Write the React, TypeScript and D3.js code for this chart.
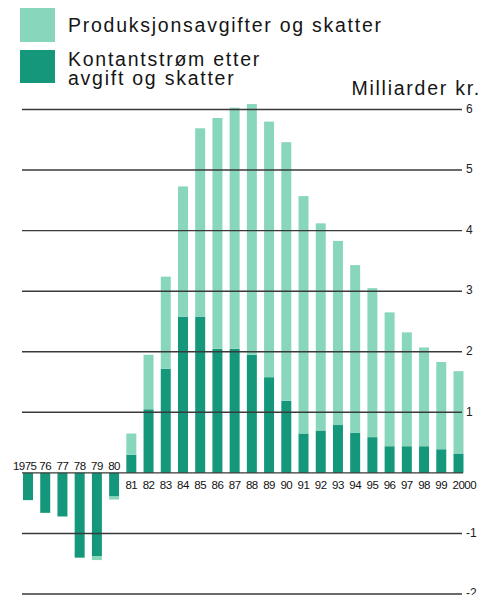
import React from "react"
import * as d3 from "d3"

const years = ["1975", "76", "77", "78", "79", "80", "81", "82", "83", "84", "85", "86", "87",
    "88", "89", "90", "91", "92", "93", "94", "95", "96", "97", "98", "99", "2000"]

// Kontantstrøm etter avgift og skatter (milliarder kr.)
const cashflow = [-0.45, -0.66, -0.72, -1.40, -1.38, -0.39, 0.30, 1.05, 1.72, 2.58, 2.58, 2.05, 2.05,
    1.95, 1.58, 1.19, 0.65, 0.70, 0.79, 0.66, 0.59, 0.44, 0.44, 0.44, 0.39, 0.32]

// Produksjonsavgifter og skatter (milliarder kr.)
const fees = [0, 0, 0, 0, -0.06, -0.05, 0.35, 0.90, 1.52, 2.15, 3.11, 3.81, 3.98,
    4.14, 4.22, 4.27, 3.92, 3.42, 3.04, 2.77, 2.46, 2.21, 1.88, 1.63, 1.44, 1.36]

const yTicks = [-2, -1, 1, 2, 3, 4, 5, 6]

const LIGHT = "#88d6bc"
const DARK = "#14977a"
const LINE = "#3a3a3a"

const W = 483
const H = 595

const App = () => {
    const x = d3.scaleBand()
        .domain(years)
        .range([19.4, 467.1])
        .paddingInner(0.42)
        .paddingOuter(0.21)
    const y = d3.scaleLinear()
        .domain([-2, 6])
        .range([594, 109.5])

    const rows = years.map((yr, i) => ({year: yr, cashflow: cashflow[i], fees: fees[i]}))
    const series = d3.stack<any>()
        .keys(["cashflow", "fees"])
        .offset(d3.stackOffsetDiverging)(rows)
    const colors = [DARK, LIGHT]

    const lineX0 = 22
    const lineX1 = 462
    const font = "'Liberation Sans', Arial, sans-serif"

    return (
        <svg width={W} height={H} style={{position: "absolute", left: 0, top: 0}}
             fontFamily={font}>
            {/* legend */}
            <rect x={20} y={8} width={35} height={34} fill={LIGHT}/>
            <rect x={20} y={50} width={35} height={33} fill={DARK}/>
            <g fontSize={19.5} fill="#151515" letterSpacing={1.75}>
                <text x={68} y={32}>Produksjonsavgifter og skatter</text>
                <text x={68} y={65.5}>Kontantstrøm etter</text>
                <text x={68} y={84.5}>avgift og skatter</text>
                <text x={481} y={94.5} textAnchor="end">Milliarder kr.</text>
            </g>

            {/* bars */}
            {series.map((s, si) => (
                <g key={s.key} fill={colors[si]}>
                    {s.map((d: any) => {
                        const top = y(Math.max(d[0], d[1]))
                        const bot = y(Math.min(d[0], d[1]))
                        if (bot - top < 0.01) return null
                        return <rect key={d.data.year} x={x(d.data.year)} y={top}
                                     width={x.bandwidth()} height={bot - top}/>
                    })}
                </g>
            ))}

            {/* grid lines on top of the bars */}
            <g stroke={LINE} strokeWidth={1.4}>
                {yTicks.map(t => (
                    <line key={t} x1={lineX0} x2={lineX1} y1={y(t)} y2={y(t)}/>
                ))}
                <line x1={lineX0} x2={lineX1 + 1} y1={y(0)} y2={y(0)}/>
            </g>
            <g fontSize={12} fill="#222">
                {yTicks.map(t => (
                    <text key={t} x={466} y={y(t) - 1} dy="0.35em">{t < 0 ? `-${-t}` : t}</text>
                ))}
            </g>

            {/* year labels */}
            <g fontSize={11.5} fill="#111" letterSpacing={-0.5}>
                {years.map((yr, i) => {
                    const cx = (x(yr) as number) + x.bandwidth() / 2
                    const above = cashflow[i] < 0
                    const isFirst = i === 0
                    const isLast = i === years.length - 1
                    let lx = cx
                    let anchor = "middle"
                    if (isFirst) { lx = cx + 8.5; anchor = "end" }
                    if (isLast) { lx = cx - 6; anchor = "start" }
                    return (
                        <text key={yr} x={lx} y={above ? y(0) - 3 : y(0) + 16}
                              textAnchor={anchor}>{yr}</text>
                    )
                })}
            </g>
        </svg>
    )
}

export default App
